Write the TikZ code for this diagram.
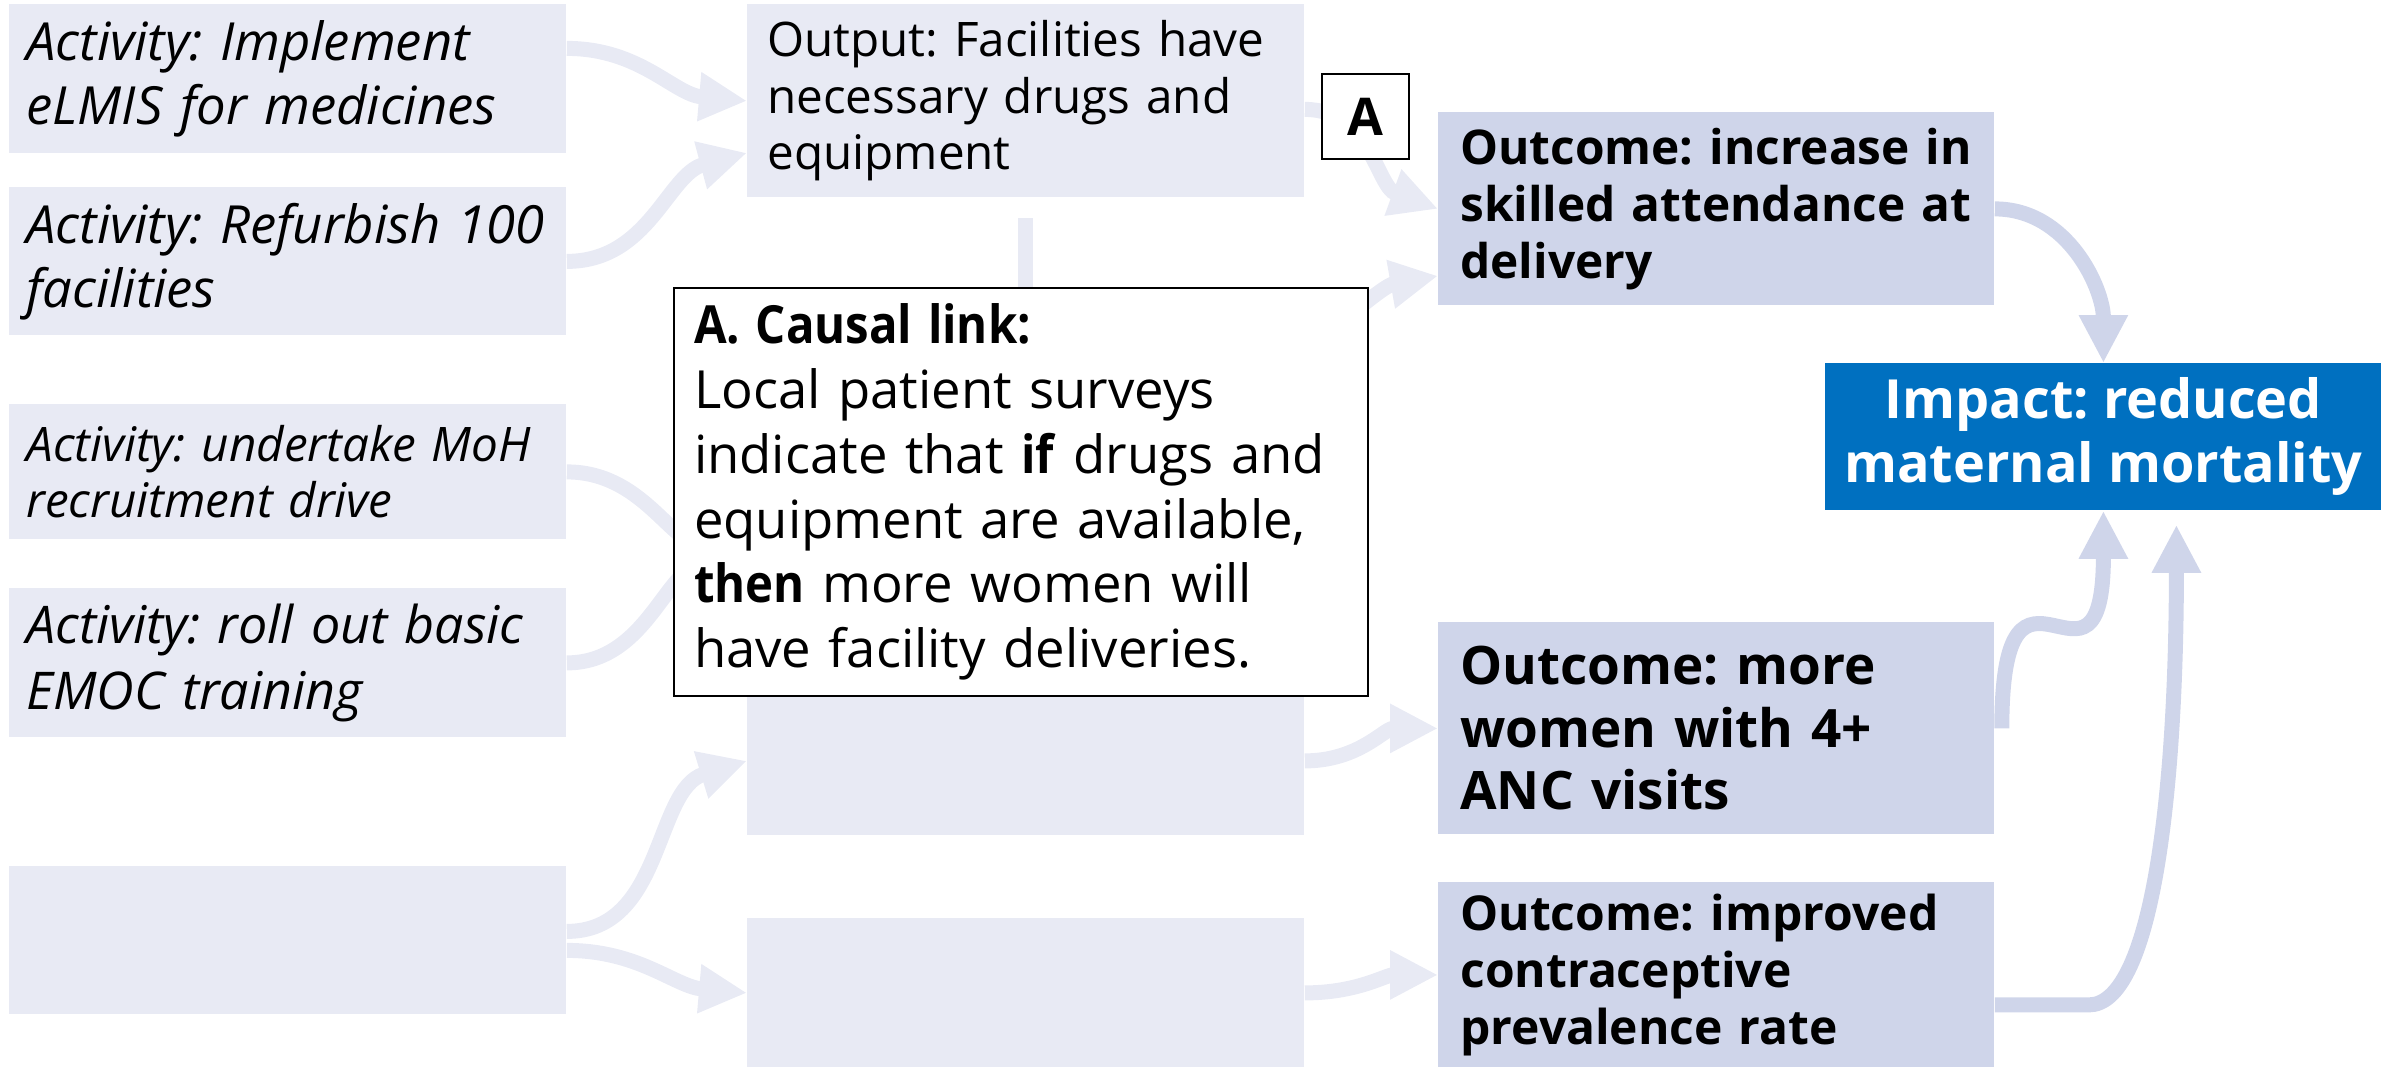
\documentclass[tikz,border=0pt]{standalone}
\usepackage{graphicx}
\usepackage{fontspec}
\setmainfont{Open Sans}
\usetikzlibrary{arrows.meta}

\definecolor{actfill}{HTML}{E8EAF4}
\definecolor{outfill}{HTML}{CFD5EA}
\definecolor{impactblue}{HTML}{0070C0}

\newcommand{\nb}[1]{\scalebox{0.9}[1]{\textbf{#1}}}

\tikzset{
  lbox/.style={fill=actfill, anchor=north west, inner sep=0pt,
    minimum width=278.5pt, text width=278.5pt, align=left,
    execute at begin node={\leftskip=8.5pt\relax}},
  obox/.style={lbox, execute at begin node={\leftskip=10pt\relax}},
  rbox/.style={fill=outfill, anchor=north west, inner sep=0pt,
    minimum width=278pt, text width=278pt, align=left,
    execute at begin node={\leftskip=11pt\relax}},
  note/.style={draw=black, line width=1pt, fill=white, anchor=north west, inner sep=0pt},
  lflow/.style={draw=actfill, line width=7.5pt, -{Triangle[width=23pt,length=24pt]}},
  rflow/.style={draw=outfill, line width=7.5pt, -{Triangle[width=23pt,length=24pt]}},
}

\begin{document}
\frenchspacing
\begin{tikzpicture}[x=0.5pt, y=0.5pt]
	\useasboundingbox (0,0) rectangle (2392,-1070);
	
	% Activities
	\node[lbox, minimum height=74.5pt, font=\itshape\fontsize{26.3}{32}\selectfont] (act1) at (9,-4)
		{Activity: Implement\\eLMIS for medicines};
	\node[lbox, minimum height=74pt, font=\itshape\fontsize{26.3}{32}\selectfont] (act2) at (9,-187)
		{Activity: Refurbish 100\\facilities};
	\node[lbox, minimum height=67.5pt, font=\itshape\fontsize{23.8}{28}\selectfont] (act3) at (9,-404)
		{Activity: undertake MoH\\recruitment drive};
	\node[lbox, minimum height=74.5pt, font=\itshape\fontsize{26}{33}\selectfont] (act4) at (9,-588)
		{Activity: roll out basic\\EMOC training};
	\node[lbox, minimum height=74pt] (act5) at (9,-866) {};
	
	% Outputs
	\node[obox, minimum height=96.5pt, font=\fontsize{23.8}{28.25}\selectfont] (out1) at (747,-4)
		{Output: Facilities have\\necessary drugs and\\equipment};
	\node[obox, minimum height=74.5pt] (out2) at (747,-686) {};
	\node[obox, minimum height=74.5pt] (out3) at (747,-918) {};
	
	% Outcomes
	\node[rbox, minimum height=96.5pt, font=\bfseries\fontsize{23.9}{28.5}\selectfont] (outcome1) at (1438,-112)
		{Outcome: increase in\\skilled attendance at\\delivery};
	\node[rbox, minimum height=106pt, font=\bfseries\fontsize{26.5}{31.25}\selectfont] (outcome2) at (1438,-622)
		{Outcome: more\\women with 4+\\ANC visits};
	\node[rbox, minimum height=92.5pt, font=\bfseries\fontsize{24}{28.5}\selectfont] (outcome3) at (1438,-882)
		{Outcome: improved\\contraceptive\\prevalence rate};
	
	% Impact
	\node[fill=impactblue, text=white, anchor=north west, minimum width=278pt, minimum height=73.5pt,
		inner sep=0pt, align=center, font=\bfseries\fontsize{27}{32}\selectfont] (impact) at (1825,-363)
		{Impact: reduced\\maternal mortality};
	
	% Links running under the causal note
	\coordinate (hidB) at (747,-545);
	\coordinate (hidC) at (747,-565);
	\coordinate (hidD) at (1320,-340);
	
	% Activities to outputs
	\draw[lflow] ([yshift=15.25pt]act1.east) to[out=0,in=175] (out1.west);
	\draw[lflow] (act2.east) to[out=0,in=195] ([yshift=-26pt]out1.west);
	\draw[lflow] (act3.east) to[out=0,in=180] (hidB);
	\draw[lflow] (act4.east) to[out=0,in=180] (hidC);
	\draw[lflow] ([yshift=4.5pt]act5.east) to[out=0,in=197] (out2.west);
	\draw[lflow] ([yshift=-5pt]act5.east) to[out=0,in=175] (out3.west);
	
	% Outputs to outcomes
	\draw[lflow] ([yshift=-4.25pt]out1.east) to[out=0,in=160] (outcome1.west);
	\draw[lflow] (hidD) to[out=40,in=190] ([yshift=-33.5pt]outcome1.west);
	\draw[actfill, line width=7.5pt] ([yshift=-10pt]out1.south) -- ([yshift=-70pt]out1.south);
	\draw[lflow] (out2.east) to[out=0,in=180] (outcome2.west);
	\draw[lflow] (out3.east) to[out=0,in=180] (outcome3.west);
	
	% Outcomes to impact
	\draw[rflow] (outcome1.east) to[out=0,in=90] (impact.north);
	\draw[rflow] ([xshift=3.5pt]outcome2.east) to[out=90,in=-90,looseness=2.3] (impact.south);
	\draw[rflow] ([yshift=-15pt]outcome3.east) -- ++(47pt,0)
		.. controls +(31pt,0) and +(0,-138pt) .. ([xshift=36.5pt,yshift=-7pt]impact.south);
	
	% Causal note and its marker
	\node[note, minimum width=347pt, minimum height=204pt, text width=347pt, align=left,
		execute at begin node={\leftskip=10pt\relax},
		font=\fontsize{26.3}{32.35}\selectfont] (causal) at (673,-287)
		{\nb{A. Causal link:}\\Local patient surveys\\indicate that \nb{if} drugs and\\equipment are available,\\\nb{then} more women will\\have facility deliveries.};
	\node[note, minimum width=43.5pt, minimum height=42.5pt,
		font=\bfseries\fontsize{26}{30}\selectfont] (markA) at (1321,-73) {A};
\end{tikzpicture}
\end{document}
